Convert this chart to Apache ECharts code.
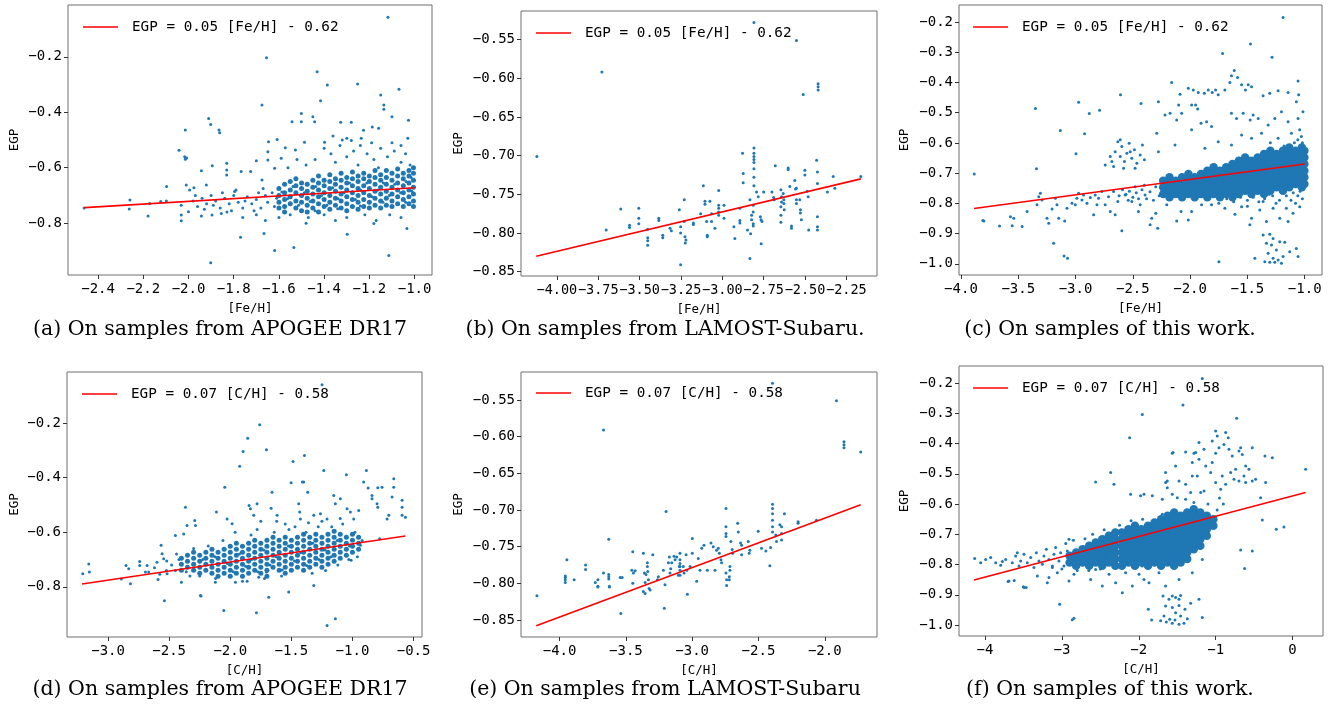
<!DOCTYPE html>
<html><head><meta charset="utf-8">
<script src="https://cdn.jsdelivr.net/npm/echarts@6.0.0/dist/echarts.min.js"></script>
<style>html,body{margin:0;padding:0;background:#fff}#c{width:1343px;height:706px}</style>
</head><body><div id="c"></div>
<script>
const EQ_FE = 'EGP = 0.05 [Fe/H] - 0.62';
const EQ_C = 'EGP = 0.07 [C/H] - 0.58';
const captions = ['(a) On samples from APOGEE DR17','(b) On samples from LAMOST-Subaru.','(c) On samples of this work.','(d) On samples from APOGEE DR17','(e) On samples from LAMOST-Subaru','(f) On samples of this work.'];

const aXTicks=[-2.4,-2.2,-2.0,-1.8,-1.6,-1.4,-1.2,-1.0], aYTicks=[-0.8,-0.6,-0.4,-0.2];
const bXTicks=[-4.0,-3.75,-3.5,-3.25,-3.0,-2.75,-2.5,-2.25], bYTicks=[-0.85,-0.8,-0.75,-0.7,-0.65,-0.6,-0.55];
const cXTicks=[-4,-3.5,-3,-2.5,-2,-1.5,-1], cYTicks=[-1.0,-0.9,-0.8,-0.7,-0.6,-0.5,-0.4,-0.3,-0.2];
const dXTicks=[-3,-2.5,-2,-1.5,-1,-0.5], dYTicks=[-0.8,-0.6,-0.4,-0.2];
const eXTicks=[-4,-3.5,-3,-2.5,-2], eYTicks=[-0.85,-0.8,-0.75,-0.7,-0.65,-0.6,-0.55];
const fXTicks=[-4,-3,-2,-1,0], fYTicks=[-1.0,-0.9,-0.8,-0.7,-0.6,-0.5,-0.4,-0.3,-0.2];

const aLine=[[-2.46,-0.744],[-1.0,-0.672]];
const bLine=[[-4.125,-0.830],[-2.163,-0.730]];
const cLine=[[-3.886,-0.817],[-1.0,-0.670]];
const dLine=[[-3.213,-0.790],[-0.567,-0.614]];
const eLine=[[-4.176,-0.858],[-1.729,-0.693]];
const fLine=[[-4.143,-0.851],[0.170,-0.562]];

const aPts=[[-2.462,-0.745],[-1.118,-0.057],[-1.655,-0.203],[-1.431,-0.254],[-1.386,-0.302],[-1.252,-0.298],[-1.069,-0.317],[-1.416,-0.358],[-1.675,-0.374],[-1.150,-0.338],[-1.136,-0.374],[-1.136,-0.389],[-1.911,-0.422],[-1.902,-0.444],[-2.014,-0.464],[-1.865,-0.464],[-1.862,-0.474],[-2.042,-0.537],[-2.017,-0.560],[-2.014,-0.569],[-2.008,-0.565],[-1.501,-0.404],[-1.542,-0.434],[-1.501,-0.434],[-1.442,-0.434],[-1.450,-0.416],[-1.327,-0.436],[-1.280,-0.436],[-1.187,-0.453],[-1.159,-0.458],[-1.100,-0.416],[-1.027,-0.429],[-1.226,-0.465],[-1.361,-0.486],[-1.300,-0.494],[-1.280,-0.502],[-1.236,-0.494],[-1.646,-0.506],[-1.608,-0.498],[-1.572,-0.528],[-1.527,-0.536],[-1.487,-0.508],[-1.398,-0.508],[-1.030,-0.494],[-1.943,-0.611],[-1.895,-0.593],[-2.097,-0.668],[-2.259,-0.716],[-2.262,-0.749],[-2.179,-0.774],[-2.172,-0.729],[-2.123,-0.722],[-2.098,-0.720],[-2.032,-0.735],[-2.032,-0.771],[-2.032,-0.791],[-2.000,-0.759],[-1.943,-0.774],[-1.896,-0.771],[-1.855,-0.765],[-1.770,-0.851],[-1.666,-0.837],[-1.619,-0.899],[-1.534,-0.888],[-1.902,-0.943],[-1.298,-0.840],[-1.180,-0.801],[-1.114,-0.917],[-1.034,-0.819],[-2.010,-0.662],[-1.995,-0.680],[-1.976,-0.672],[-1.921,-0.662],[-1.831,-0.584],[-1.831,-0.608],[-1.831,-0.626],[-1.796,-0.686],[-1.767,-0.614],[-1.725,-0.614],[-1.700,-0.575],[-1.675,-0.644],[-1.649,-0.542],[-1.649,-0.572],[-1.619,-0.602],[-1.590,-0.566],
[-1.40,-0.53],[-1.37,-0.55],[-1.33,-0.52],[-1.30,-0.56],[-1.27,-0.54],[-1.24,-0.52],[-1.21,-0.55],[-1.18,-0.57],[-1.15,-0.53],[-1.12,-0.56],[-1.09,-0.54],[-1.06,-0.58],[-1.04,-0.55],[-1.02,-0.59],[-1.35,-0.58],[-1.25,-0.59],[-1.16,-0.60],[-1.44,-0.57],[-1.48,-0.59],[-1.52,-0.57],[-1.56,-0.60],[-1.10,-0.51],[-1.19,-0.51],[-1.32,-0.50],[-1.06,-0.52],
[-1.60,-0.78],[-1.55,-0.77],[-1.47,-0.78],[-1.40,-0.77],[-1.35,-0.79],[-1.30,-0.78],[-1.22,-0.77],[-1.17,-0.79],[-1.11,-0.77],[-1.06,-0.78],[-1.70,-0.77],[-1.76,-0.78],[-1.83,-0.76],[-1.48,-0.80],[-1.66,-0.79],
[-1.98,-0.72],[-1.96,-0.74],[-1.94,-0.71],[-1.92,-0.73],[-1.90,-0.70],[-1.88,-0.72],[-1.86,-0.745],[-1.84,-0.71],[-1.82,-0.73],[-1.80,-0.70],[-1.78,-0.725],[-1.76,-0.745],[-1.74,-0.705],[-1.72,-0.73],[-1.70,-0.715],[-1.69,-0.69],[-1.68,-0.745],[-1.66,-0.70],[-1.65,-0.725],[-1.63,-0.69],[-1.62,-0.74],[-1.61,-0.71],[-1.97,-0.70],[-1.93,-0.75],[-1.89,-0.735],[-1.85,-0.69],[-1.81,-0.755],[-1.79,-0.68],[-1.75,-0.72],[-1.71,-0.755],[-1.67,-0.675],
[-1.587,-0.688],[-1.562,-0.712],[-1.538,-0.668],[-1.513,-0.735],[-1.488,-0.690],[-1.462,-0.722],[-1.437,-0.668],[-1.412,-0.700],[-1.388,-0.735],[-1.362,-0.672],[-1.338,-0.712],[-1.312,-0.690],[-1.288,-0.655],[-1.262,-0.715],[-1.238,-0.680],[-1.212,-0.655],[-1.188,-0.705],[-1.162,-0.680],[-1.138,-0.655],[-1.112,-0.700],[-1.088,-0.660],[-1.062,-0.690],[-1.038,-0.650],[-1.012,-0.685],[-1.015,-0.635],[-1.040,-0.725],[-1.140,-0.725],[-1.240,-0.738],[-1.340,-0.748],[-1.440,-0.755]];
const aCore=[[-1.600,[-0.675,-0.700,-0.725,-0.745]],[-1.575,[-0.660,-0.690,-0.715,-0.740,-0.760]],[-1.550,[-0.680,-0.705,-0.730,-0.650]],[-1.525,[-0.665,-0.690,-0.720,-0.745,-0.640]],[-1.500,[-0.675,-0.700,-0.725,-0.755,-0.655]],[-1.475,[-0.660,-0.685,-0.710,-0.735,-0.760]],[-1.450,[-0.645,-0.670,-0.695,-0.720,-0.745]],[-1.425,[-0.655,-0.680,-0.705,-0.730,-0.760,-0.630]],[-1.400,[-0.665,-0.690,-0.715,-0.740,-0.645]],[-1.375,[-0.650,-0.675,-0.700,-0.725,-0.750,-0.625]],[-1.350,[-0.660,-0.685,-0.710,-0.735,-0.640]],[-1.325,[-0.645,-0.670,-0.695,-0.720,-0.745,-0.620]],[-1.300,[-0.655,-0.680,-0.705,-0.730,-0.635,-0.755]],[-1.275,[-0.640,-0.665,-0.690,-0.715,-0.740,-0.615]],[-1.250,[-0.650,-0.675,-0.700,-0.725,-0.630,-0.750]],[-1.225,[-0.640,-0.665,-0.690,-0.715,-0.740,-0.620]],[-1.200,[-0.650,-0.675,-0.700,-0.725,-0.630,-0.745]],[-1.175,[-0.635,-0.660,-0.685,-0.710,-0.735,-0.610]],[-1.150,[-0.645,-0.670,-0.695,-0.720,-0.625,-0.745]],[-1.125,[-0.635,-0.660,-0.685,-0.710,-0.735,-0.610]],[-1.100,[-0.645,-0.670,-0.695,-0.720,-0.620,-0.740]],[-1.075,[-0.630,-0.655,-0.680,-0.705,-0.730,-0.605]],[-1.050,[-0.640,-0.665,-0.690,-0.715,-0.620,-0.740]],[-1.025,[-0.630,-0.655,-0.680,-0.705,-0.730,-0.610]],[-1.005,[-0.620,-0.645,-0.670,-0.695,-0.720,-0.600,-0.740]]];

const bPts=[[-4.121,-0.701],[-3.728,-0.592],[-3.702,-0.796],[-3.614,-0.769],[-3.561,-0.790],[-3.561,-0.793],[-3.505,-0.768],[-3.505,-0.781],[-3.505,-0.788],[-3.451,-0.795],[-3.451,-0.806],[-3.451,-0.810],[-3.451,-0.816],[-3.384,-0.781],[-3.384,-0.784],[-3.360,-0.803],[-3.360,-0.806],[-3.316,-0.794],[-3.308,-0.797],[-3.260,-0.770],[-3.252,-0.792],[-3.252,-0.800],[-3.252,-0.841],[-3.230,-0.757],[-3.230,-0.785],[-3.226,-0.805],[-3.220,-0.809],[-3.224,-0.813],[-3.175,-0.787],[-3.175,-0.789],[-3.131,-0.775],[-3.115,-0.739],[-3.105,-0.759],[-3.105,-0.763],[-3.095,-0.785],[-3.091,-0.803],[-3.091,-0.805],[-3.075,-0.759],[-3.065,-0.775],[-3.065,-0.785],[-3.045,-0.794],[-3.022,-0.745],[-3.022,-0.764],[-3.022,-0.768],[-3.022,-0.773],[-3.022,-0.777],[-2.990,-0.764],[-2.990,-0.781],[-2.930,-0.792],[-2.924,-0.807],[-2.894,-0.768],[-2.894,-0.784],[-2.894,-0.787],[-2.878,-0.697],[-2.874,-0.723],[-2.874,-0.735],[-2.848,-0.796],[-2.833,-0.757],[-2.833,-0.833],[-2.829,-0.801],[-2.823,-0.777],[-2.823,-0.783],[-2.813,-0.764],[-2.813,-0.773],[-2.813,-0.788],[-2.813,-0.791],[-2.809,-0.690],[-2.809,-0.697],[-2.809,-0.701],[-2.809,-0.705],[-2.809,-0.709],[-2.809,-0.717],[-2.809,-0.728],[-2.809,-0.739],[-2.809,-0.528],[-2.793,-0.747],[-2.783,-0.753],[-2.770,-0.779],[-2.766,-0.783],[-2.760,-0.785],[-2.765,-0.814],[-2.750,-0.747],[-2.700,-0.747],[-2.690,-0.754],[-2.686,-0.757],[-2.680,-0.713],[-2.646,-0.744],[-2.642,-0.753],[-2.642,-0.760],[-2.646,-0.766],[-2.646,-0.777],[-2.646,-0.786],[-2.632,-0.749],[-2.628,-0.757],[-2.628,-0.762],[-2.626,-0.770],[-2.602,-0.716],[-2.602,-0.718],[-2.592,-0.740],[-2.582,-0.791],[-2.582,-0.794],[-2.562,-0.732],[-2.558,-0.743],[-2.552,-0.742],[-2.552,-0.551],[-2.552,-0.757],[-2.552,-0.762],[-2.532,-0.757],[-2.528,-0.770],[-2.528,-0.774],[-2.522,-0.783],[-2.511,-0.621],[-2.501,-0.719],[-2.501,-0.725],[-2.487,-0.746],[-2.481,-0.753],[-2.478,-0.796],[-2.430,-0.706],[-2.425,-0.721],[-2.425,-0.736],[-2.421,-0.607],[-2.421,-0.611],[-2.421,-0.615],[-2.425,-0.779],[-2.425,-0.792],[-2.425,-0.796],[-2.365,-0.747],[-2.330,-0.727],[-2.320,-0.742],[-2.163,-0.727]];

const cPts=[[-1.189,-0.185],[-1.473,-0.273],[-1.285,-0.317],[-1.717,-0.304],[-3.884,-0.703],[-3.809,-0.857],[-3.350,-0.486],[-3.341,-0.686],[-3.191,-0.932],[-3.133,-0.559],[-3.100,-0.974],[-3.070,-0.982],[-2.973,-0.466],[-2.921,-0.570],[-2.880,-0.503],[-2.790,-0.492],[-2.996,-0.636],[-2.608,-0.441],[-2.428,-0.470],[-2.277,-0.464],[-1.749,-0.993],[-1.479,-0.871],[-2.100,-0.475],
[-3.800,-0.858],[-3.663,-0.875],[-3.553,-0.874],[-3.539,-0.849],[-3.568,-0.844],[-3.466,-0.877],[-3.423,-0.827],[-3.336,-0.805],[-3.321,-0.778],[-3.307,-0.767],[-3.292,-0.789],[-3.249,-0.849],[-3.234,-0.866],[-3.205,-0.819],[-3.176,-0.783],[-3.162,-0.805],[-3.147,-0.849],[-3.095,-0.858],[-3.075,-0.816],[-3.031,-0.800],[-3.002,-0.805],[-2.988,-0.783],[-2.973,-0.767],[-2.944,-0.789],[-2.930,-0.772],[-2.900,-0.800],[-2.871,-0.781],[-2.842,-0.838],[-2.828,-0.772],[-2.813,-0.805],[-2.799,-0.783],[-2.770,-0.761],[-2.741,-0.805],[-2.712,-0.778],[-2.697,-0.827],[-2.668,-0.761],[-2.654,-0.838],[-2.631,-0.794],[-2.596,-0.891],[-2.567,-0.772],[-2.509,-0.794],[-2.480,-0.745],[-2.451,-0.827],[-2.436,-0.805],[-2.393,-0.772],[-2.349,-0.871],[-2.335,-0.849],[-2.300,-0.833],[-2.283,-0.882],[-2.242,-0.767],[-2.204,-0.805],[-2.161,-0.781],[-2.117,-0.858],[-2.079,-0.827],[-2.016,-0.855],
[-2.560,-0.770],[-2.530,-0.760],[-2.500,-0.780],[-2.470,-0.765],[-2.420,-0.755],[-2.380,-0.785],[-2.350,-0.762],[-2.320,-0.790],[-2.300,-0.745],[-2.270,-0.775],[-2.620,-0.775],[-2.590,-0.755],[-2.540,-0.790],[-2.450,-0.785],[-2.400,-0.740],
[-2.697,-0.645],[-2.683,-0.662],[-2.654,-0.629],[-2.631,-0.596],[-2.610,-0.645],[-2.596,-0.612],[-2.573,-0.662],[-2.552,-0.634],[-2.532,-0.601],[-2.509,-0.651],[-2.486,-0.623],[-2.465,-0.667],[-2.436,-0.640],[-2.416,-0.607],[-2.399,-0.656],[-2.668,-0.678],[-2.581,-0.684],[-2.480,-0.684],[-2.741,-0.673],[-2.610,-0.590],[-2.523,-0.629],
[-2.291,-0.568],[-2.219,-0.508],[-2.175,-0.502],[-2.161,-0.400],[-2.088,-0.439],[-2.016,-0.419],[-1.972,-0.425],[-1.929,-0.433],[-1.952,-0.475],[-1.934,-0.488],[-1.876,-0.436],[-1.842,-0.425],[-1.807,-0.433],[-1.778,-0.425],[-1.755,-0.441],[-1.697,-0.425],[-1.653,-0.400],[-1.639,-0.378],[-1.615,-0.361],[-1.586,-0.384],[-1.551,-0.408],[-1.517,-0.425],[-1.493,-0.408],[-1.464,-0.414],[-1.639,-0.502],[-1.595,-0.519],[-1.537,-0.502],[-1.476,-0.524],[-1.450,-0.508],[-1.987,-0.557],[-1.905,-0.535],[-1.856,-0.530],[-1.813,-0.546],[-1.987,-0.475],[-2.074,-0.502],[-2.117,-0.524],[-1.406,-0.519],[-1.363,-0.444],[-1.305,-0.436],[-1.232,-0.428],[-1.145,-0.433],[-1.058,-0.395],[-1.073,-0.464],[-1.058,-0.519],[-1.044,-0.557],[-1.029,-0.579],[-1.203,-0.497],[-1.261,-0.519],[-1.319,-0.541],[-1.145,-0.530],[-1.116,-0.568],[-1.377,-0.568],[-1.232,-0.585],[-1.464,-0.585],[-1.551,-0.574],[-1.755,-0.596],[-1.639,-0.607],[-1.871,-0.618],[-2.132,-0.607],[-2.277,-0.629],[-1.015,-0.497],[-1.053,-0.441],[-1.090,-0.600],[-1.180,-0.610],[-1.300,-0.600],[-1.020,-0.600],[-1.060,-0.590],
[-1.363,-0.905],[-1.305,-0.902],[-1.276,-0.916],[-1.334,-0.932],[-1.290,-0.938],[-1.247,-0.954],[-1.319,-0.965],[-1.276,-0.982],[-1.232,-0.987],[-1.189,-0.976],[-1.174,-0.929],[-1.131,-0.960],[-1.348,-0.993],[-1.305,-0.995],[-1.203,-0.998],[-1.073,-0.949],[-1.058,-0.976],[-1.435,-0.982],[-1.261,-0.995],[-1.218,-0.927],
[-1.987,-0.827],[-1.813,-0.805],[-1.697,-0.816],[-1.609,-0.836],[-1.551,-0.811],[-1.464,-0.849],[-1.392,-0.822],[-1.334,-0.860],[-1.276,-0.816],[-1.218,-0.849],[-1.160,-0.816],[-1.102,-0.833],[-1.044,-0.811],[-1.363,-0.794],[-1.145,-0.860],[-1.900,-0.805],[-1.750,-0.800],[-1.500,-0.810],[-1.250,-0.800],[-1.080,-0.800],
[-1.68,-0.785],[-1.62,-0.795],[-1.56,-0.780],[-1.50,-0.790],[-1.45,-0.780],[-1.40,-0.795],[-1.35,-0.785],[-1.28,-0.775],[-1.22,-0.790],[-1.16,-0.775],[-1.12,-0.790],[-1.06,-0.775],[-1.02,-0.785],[-1.04,-0.760],[-1.10,-0.765],[-1.31,-0.770],[-1.58,-0.770]];
const cCore=[[-2.235,[-0.725,-0.747,-0.769]],[-2.18,[-0.714,-0.736,-0.758,-0.78]],[-2.125,[-0.725,-0.747,-0.769]],[-2.07,[-0.714,-0.736,-0.758,-0.78]],[-2.015,[-0.703,-0.725,-0.747,-0.769]],[-1.96,[-0.714,-0.736,-0.758,-0.78]],[-1.905,[-0.703,-0.725,-0.747,-0.769]],[-1.85,[-0.692,-0.714,-0.736,-0.758,-0.78]],[-1.795,[-0.681,-0.703,-0.725,-0.747,-0.769]],[-1.74,[-0.692,-0.714,-0.736,-0.758,-0.78]],[-1.685,[-0.681,-0.703,-0.725,-0.747,-0.769]],[-1.63,[-0.67,-0.692,-0.714,-0.736,-0.758,-0.78]],[-1.575,[-0.659,-0.681,-0.703,-0.725,-0.747,-0.769]],[-1.52,[-0.648,-0.67,-0.692,-0.714,-0.736,-0.758]],[-1.465,[-0.659,-0.681,-0.703,-0.725,-0.747,-0.769]],[-1.41,[-0.648,-0.67,-0.692,-0.714,-0.736,-0.758]],[-1.355,[-0.637,-0.659,-0.681,-0.703,-0.725,-0.747,-0.769]],[-1.30,[-0.626,-0.648,-0.67,-0.692,-0.714,-0.736,-0.758]],[-1.245,[-0.637,-0.659,-0.681,-0.703,-0.725,-0.747]],[-1.19,[-0.626,-0.648,-0.67,-0.692,-0.714,-0.736,-0.758]],[-1.135,[-0.615,-0.637,-0.659,-0.681,-0.703,-0.725,-0.747]],[-1.08,[-0.626,-0.648,-0.67,-0.692,-0.714,-0.736]],[-1.025,[-0.615,-0.637,-0.659,-0.681,-0.703,-0.725,-0.747]],[-1.003,[-0.626,-0.648,-0.67,-0.692,-0.714,-0.736]]];

const dPts=[[-1.249,-0.059],[-1.759,-0.206],[-1.857,-0.255],[-1.895,-0.304],[-1.704,-0.298],[-1.923,-0.358],[-1.486,-0.341],[-1.393,-0.319],[-2.045,-0.435],[-1.658,-0.453],[-1.502,-0.419],[-1.410,-0.416],[-1.399,-0.416],[-1.366,-0.453],[-1.235,-0.374],[-1.050,-0.389],[-0.886,-0.374],[-0.908,-0.416],[-0.872,-0.438],[-0.840,-0.465],[-0.840,-0.477],[-0.793,-0.437],[-0.758,-0.435],[-0.799,-0.496],[-0.793,-0.508],[-0.717,-0.551],[-0.703,-0.538],[-0.676,-0.471],[-0.662,-0.404],[-0.662,-0.435],[-0.594,-0.483],[-0.594,-0.508],[-0.594,-0.538],[-0.567,-0.545],[-2.367,-0.508],[-2.291,-0.557],[-2.285,-0.575],[-2.113,-0.526],[-2.026,-0.551],[-1.985,-0.569],[-1.846,-0.502],[-1.835,-0.514],[-1.808,-0.538],[-1.781,-0.496],[-1.666,-0.512],[-1.617,-0.538],[-1.440,-0.496],[-1.432,-0.526],[-1.426,-0.551],[-1.317,-0.538],[-1.262,-0.532],[-1.208,-0.551],[-1.044,-0.514],[-1.017,-0.526],[-0.990,-0.551],[-0.949,-0.520],[-1.153,-0.465],[-1.140,-0.496],[-1.099,-0.477],[-2.539,-0.851],[-2.239,-0.834],[-2.053,-0.887],[-1.786,-0.895],[-1.685,-0.838],[-1.522,-0.819],[-1.317,-0.795],[-1.208,-0.942],[-1.140,-0.917],[-3.207,-0.752],[-3.158,-0.716],[-3.153,-0.746],[-2.891,-0.771],[-2.853,-0.722],[-2.831,-0.734],[-2.817,-0.789],[-2.741,-0.707],[-2.741,-0.722],[-2.694,-0.746],[-2.681,-0.722],[-2.667,-0.746],[-2.591,-0.773],[-2.577,-0.754],[-2.566,-0.648],[-2.558,-0.679],[-2.545,-0.697],[-2.523,-0.740],[-2.517,-0.752],[-2.449,-0.740],[-2.449,-0.612],[-2.400,-0.783],[-2.381,-0.606],[-2.354,-0.575],[-2.244,-0.832],[-2.122,-0.783],[-1.958,-0.783],[-1.862,-0.780],[-1.767,-0.765],[-1.704,-0.746],[-1.011,-0.703],[-0.935,-0.648],[-0.921,-0.630],[-0.777,-0.624],
[-2.30,-0.66],[-2.25,-0.76],[-2.18,-0.65],[-2.12,-0.77],[-2.06,-0.63],[-1.96,-0.60],[-1.90,-0.78],[-1.83,-0.61],[-1.78,-0.59],[-1.72,-0.77],[-1.64,-0.60],[-1.58,-0.76],[-1.52,-0.59],[-1.47,-0.58],[-1.38,-0.60],[-1.33,-0.75],[-1.28,-0.58],[-1.22,-0.74],[-1.17,-0.58],[-1.12,-0.72],[-1.08,-0.57],[-1.03,-0.70],[-0.98,-0.60],[-0.96,-0.69],[-1.55,-0.57],[-1.62,-0.56],[-1.75,-0.56],[-1.36,-0.565],[-1.25,-0.56],[-1.10,-0.55],[-2.48,-0.72],[-2.42,-0.70],[-2.36,-0.745],[-2.52,-0.705],[-2.62,-0.73],[-2.60,-0.71],[-2.44,-0.68],[-2.33,-0.76],
[-2.225,-0.700],[-2.125,-0.690],[-2.025,-0.715],[-1.925,-0.680],[-1.825,-0.700],[-1.725,-0.665],[-1.625,-0.690],[-1.525,-0.650],[-1.425,-0.675],[-1.325,-0.640],[-1.225,-0.665],[-1.125,-0.630],[-1.025,-0.650],[-1.975,-0.745],[-1.875,-0.725],[-1.775,-0.745],[-1.675,-0.720],[-1.575,-0.738],[-1.475,-0.705],[-1.375,-0.722],[-1.275,-0.700],[-1.175,-0.690]];
const dCore=[[-2.40,[-0.695,-0.717,-0.739]],[-2.35,[-0.684,-0.706,-0.728]],[-2.30,[-0.695,-0.717,-0.739,-0.673]],[-2.25,[-0.684,-0.706,-0.728,-0.75]],[-2.20,[-0.673,-0.695,-0.717,-0.739]],[-2.15,[-0.662,-0.684,-0.706,-0.728,-0.75]],[-2.10,[-0.673,-0.695,-0.717,-0.739,-0.761]],[-2.05,[-0.662,-0.684,-0.706,-0.728,-0.75]],[-2.00,[-0.651,-0.673,-0.695,-0.717,-0.739,-0.761]],[-1.95,[-0.662,-0.684,-0.706,-0.728,-0.75,-0.64]],[-1.90,[-0.651,-0.673,-0.695,-0.717,-0.739,-0.761]],[-1.85,[-0.64,-0.662,-0.684,-0.706,-0.728,-0.75]],[-1.80,[-0.651,-0.673,-0.695,-0.717,-0.739,-0.629]],[-1.75,[-0.64,-0.662,-0.684,-0.706,-0.728,-0.75]],[-1.70,[-0.629,-0.651,-0.673,-0.695,-0.717,-0.739,-0.761]],[-1.65,[-0.64,-0.662,-0.684,-0.706,-0.728,-0.618]],[-1.60,[-0.629,-0.651,-0.673,-0.695,-0.717,-0.739]],[-1.55,[-0.618,-0.64,-0.662,-0.684,-0.706,-0.728,-0.75]],[-1.50,[-0.629,-0.651,-0.673,-0.695,-0.717,-0.739]],[-1.45,[-0.618,-0.64,-0.662,-0.684,-0.706,-0.728]],[-1.40,[-0.607,-0.629,-0.651,-0.673,-0.695,-0.717,-0.739]],[-1.35,[-0.618,-0.64,-0.662,-0.684,-0.706,-0.728]],[-1.30,[-0.607,-0.629,-0.651,-0.673,-0.695,-0.717]],[-1.25,[-0.618,-0.64,-0.662,-0.684,-0.706,-0.728]],[-1.20,[-0.607,-0.629,-0.651,-0.673,-0.695,-0.717]],[-1.15,[-0.596,-0.618,-0.64,-0.662,-0.684,-0.706]],[-1.10,[-0.607,-0.629,-0.651,-0.673,-0.695]],[-1.05,[-0.618,-0.64,-0.662,-0.684]],[-1.00,[-0.607,-0.629,-0.651,-0.673]],[-0.95,[-0.618,-0.64,-0.662]]];

const ePts=[[-4.171,-0.817],[-3.957,-0.790],[-3.957,-0.792],[-3.957,-0.795],[-3.957,-0.799],[-3.945,-0.768],[-3.890,-0.795],[-3.804,-0.775],[-3.804,-0.781],[-3.731,-0.799],[-3.711,-0.795],[-3.711,-0.804],[-3.711,-0.805],[-3.669,-0.591],[-3.669,-0.786],[-3.629,-0.740],[-3.629,-0.788],[-3.629,-0.791],[-3.629,-0.794],[-3.624,-0.804],[-3.624,-0.805],[-3.543,-0.792],[-3.528,-0.792],[-3.538,-0.841],[-3.455,-0.782],[-3.443,-0.786],[-3.448,-0.757],[-3.448,-0.800],[-3.430,-0.783],[-3.368,-0.759],[-3.360,-0.786],[-3.348,-0.788],[-3.355,-0.799],[-3.368,-0.811],[-3.355,-0.814],[-3.338,-0.772],[-3.338,-0.777],[-3.335,-0.784],[-3.330,-0.795],[-3.325,-0.807],[-3.317,-0.809],[-3.297,-0.761],[-3.262,-0.795],[-3.255,-0.791],[-3.217,-0.782],[-3.205,-0.802],[-3.210,-0.834],[-3.197,-0.702],[-3.179,-0.772],[-3.172,-0.764],[-3.167,-0.786],[-3.162,-0.780],[-3.154,-0.772],[-3.137,-0.763],[-3.129,-0.768],[-3.117,-0.764],[-3.104,-0.789],[-3.097,-0.777],[-3.092,-0.759],[-3.092,-0.768],[-3.092,-0.773],[-3.092,-0.777],[-3.092,-0.782],[-3.092,-0.789],[-3.067,-0.777],[-3.061,-0.786],[-3.046,-0.761],[-3.041,-0.782],[-3.036,-0.815],[-3.016,-0.777],[-2.999,-0.759],[-2.999,-0.739],[-2.966,-0.797],[-2.954,-0.766],[-2.941,-0.782],[-2.928,-0.752],[-2.911,-0.748],[-2.886,-0.782],[-2.858,-0.745],[-2.841,-0.750],[-2.828,-0.782],[-2.816,-0.755],[-2.803,-0.752],[-2.795,-0.759],[-2.783,-0.768],[-2.778,-0.772],[-2.745,-0.698],[-2.745,-0.723],[-2.745,-0.732],[-2.745,-0.736],[-2.745,-0.786],[-2.740,-0.795],[-2.740,-0.803],[-2.715,-0.777],[-2.715,-0.782],[-2.720,-0.791],[-2.720,-0.795],[-2.708,-0.743],[-2.698,-0.754],[-2.695,-0.759],[-2.657,-0.718],[-2.652,-0.730],[-2.635,-0.745],[-2.627,-0.748],[-2.627,-0.761],[-2.577,-0.743],[-2.570,-0.759],[-2.565,-0.755],[-2.502,-0.729],[-2.477,-0.752],[-2.444,-0.756],[-2.414,-0.776],[-2.409,-0.751],[-2.394,-0.692],[-2.394,-0.698],[-2.394,-0.705],[-2.394,-0.714],[-2.394,-0.723],[-2.394,-0.730],[-2.369,-0.734],[-2.364,-0.743],[-2.339,-0.720],[-2.326,-0.723],[-2.326,-0.732],[-2.326,-0.741],[-2.304,-0.705],[-2.201,-0.716],[-2.201,-0.718],[-2.063,-0.714],[-2.394,-0.527],[-1.912,-0.551],[-1.855,-0.607],[-1.855,-0.611],[-1.855,-0.615],[-1.729,-0.621]];

const fPts=[[-1.174,-0.185],[-1.425,-0.273],[-1.954,-0.304],[-0.727,-0.317],[-2.119,-0.381],[-2.366,-0.496],[-2.561,-0.527],[-2.323,-0.535],[-0.524,-0.414],[-0.359,-0.441],[-0.263,-0.447],[0.170,-0.485],[-0.393,-0.653],[-0.212,-0.683],[-0.112,-0.676],[-0.675,-0.752],[-0.524,-0.755],[-0.623,-0.813],[-3.029,-0.931],[-2.843,-0.977],[-2.865,-0.982],[-3.700,-0.856],[-3.620,-0.853],[-3.500,-0.873],[-3.465,-0.876],[-3.189,-0.860],[-3.124,-0.810],[-2.908,-0.854],[-2.214,-0.893],[-1.932,-0.849],[-1.555,-0.430],[-1.391,-0.428],[-1.282,-0.432],[-1.217,-0.452],[-1.651,-0.496],[-1.629,-0.524],
[-1.685,-0.904],[-1.607,-0.915],[-1.521,-0.909],[-1.456,-0.902],[-1.651,-0.937],[-1.564,-0.942],[-1.477,-0.935],[-1.399,-0.948],[-1.672,-0.970],[-1.598,-0.981],[-1.529,-0.983],[-1.456,-0.970],[-1.369,-0.979],[-1.642,-0.990],[-1.564,-0.994],[-1.477,-0.997],[-1.412,-0.994],[-1.716,-0.986],[-1.876,-0.948],[-1.833,-0.983],[-1.326,-0.928],[-1.174,-0.975],[-1.217,-0.915],[-1.521,-0.959],[-1.564,-0.904],[-1.477,-0.915],
[-1.000,-0.359],[-0.979,-0.375],[-1.044,-0.392],[-0.957,-0.414],[-1.000,-0.432],[-0.870,-0.364],[-0.836,-0.381],[-0.892,-0.403],[-0.827,-0.419],[-0.784,-0.441],[-0.697,-0.425],[-0.654,-0.436],[-0.675,-0.414],[-0.610,-0.474],[-0.740,-0.485],[-0.805,-0.496],[-0.762,-0.518],[-0.697,-0.524],[-0.610,-0.529],[-0.632,-0.507],[-0.567,-0.485],[-0.524,-0.524],[-0.914,-0.507],[-0.870,-0.535],[-0.935,-0.551],[-1.000,-0.529],[-1.065,-0.496],[-1.130,-0.474],[-1.152,-0.419],[-1.260,-0.430],[-1.304,-0.463],[-1.239,-0.507],[-1.195,-0.562],[-1.152,-0.557],[-1.304,-0.507],[-1.391,-0.535],[-1.326,-0.562],[-1.477,-0.524],[-1.521,-0.474],[-1.651,-0.529],[-1.629,-0.546],[-1.564,-0.568],[-1.694,-0.584],[-1.499,-0.579],[-1.391,-0.584],[-1.283,-0.595],[-1.217,-0.397],[-1.044,-0.463],[-1.564,-0.432],[-1.824,-0.573],[-1.932,-0.568],[-2.106,-0.568],[-1.976,-0.573],[-1.694,-0.634],[-0.415,-0.579],[-0.350,-0.529],[-0.480,-0.518],[-0.90,-0.60],[-0.95,-0.58],[-1.10,-0.60],[-0.98,-0.62],
[-4.134,-0.780],[-4.056,-0.794],[-3.991,-0.783],[-3.926,-0.777],[-3.861,-0.794],[-3.796,-0.802],[-3.731,-0.783],[-3.688,-0.854],[-3.645,-0.794],[-3.601,-0.772],[-3.558,-0.805],[-3.536,-0.788],[-3.493,-0.766],[-3.450,-0.794],[-3.406,-0.777],[-3.363,-0.810],[-3.332,-0.761],[-3.298,-0.788],[-3.254,-0.799],[-3.233,-0.772],[-3.202,-0.749],[-3.168,-0.783],[-3.124,-0.805],[-3.103,-0.766],[-3.081,-0.744],[-3.059,-0.827],[-3.038,-0.788],[-3.016,-0.761],[-3.580,-0.761],[-3.775,-0.790],[-3.493,-0.876],[-3.319,-0.838],[-3.168,-0.843],[-2.929,-0.755],[-2.973,-0.805],[-2.908,-0.716],[-2.843,-0.832],[-2.778,-0.783],[-2.713,-0.799],[-2.626,-0.849],[-2.561,-0.816],[-2.474,-0.871],[-2.387,-0.832],[-2.301,-0.860],[-2.171,-0.827],[-2.084,-0.871],[-1.997,-0.832],[-1.867,-0.860],[-1.737,-0.827],[-1.651,-0.871],[-1.477,-0.849],[-1.304,-0.827],[-1.174,-0.783],[-1.521,-0.805],[-1.954,-0.805],[-2.95,-0.73],[-2.85,-0.72],[-2.70,-0.715],[-2.60,-0.70],[-2.45,-0.685],[-2.25,-0.67],[-2.10,-0.655],[-1.95,-0.65],[-3.00,-0.815],[-2.80,-0.82],[-2.65,-0.82],[-2.50,-0.815]];
const fCore=[[-2.90,[-0.771,-0.793]],[-2.815,[-0.76,-0.782,-0.804]],[-2.73,[-0.749,-0.771,-0.793]],[-2.645,[-0.738,-0.76,-0.782,-0.804]],[-2.56,[-0.727,-0.749,-0.771,-0.793]],[-2.475,[-0.716,-0.738,-0.76,-0.782,-0.804]],[-2.39,[-0.705,-0.727,-0.749,-0.771,-0.793]],[-2.305,[-0.694,-0.716,-0.738,-0.76,-0.782,-0.804]],[-2.22,[-0.694,-0.716,-0.738,-0.76,-0.782,-0.804]],[-2.135,[-0.683,-0.705,-0.727,-0.749,-0.771,-0.793]],[-2.05,[-0.672,-0.694,-0.716,-0.738,-0.76,-0.782,-0.804]],[-1.965,[-0.683,-0.705,-0.727,-0.749,-0.771,-0.793]],[-1.88,[-0.672,-0.694,-0.716,-0.738,-0.76,-0.782,-0.804]],[-1.795,[-0.661,-0.683,-0.705,-0.727,-0.749,-0.771,-0.793]],[-1.71,[-0.65,-0.672,-0.694,-0.716,-0.738,-0.76,-0.782,-0.804]],[-1.625,[-0.639,-0.661,-0.683,-0.705,-0.727,-0.749,-0.771,-0.793]],[-1.54,[-0.628,-0.65,-0.672,-0.694,-0.716,-0.738,-0.76,-0.782,-0.804]],[-1.455,[-0.639,-0.661,-0.683,-0.705,-0.727,-0.749,-0.771,-0.793]],[-1.37,[-0.628,-0.65,-0.672,-0.694,-0.716,-0.738,-0.76,-0.782]],[-1.285,[-0.617,-0.639,-0.661,-0.683,-0.705,-0.727,-0.749]],[-1.20,[-0.628,-0.65,-0.672,-0.694,-0.716,-0.738]],[-1.115,[-0.639,-0.661,-0.683,-0.705]],[-1.03,[-0.65,-0.672]]];

function expand(cols){const out=[];cols.forEach(c=>c[1].forEach(y=>out.push([c[0],y])));return out;}
function fmt(d){return v=>(v<0?'\u2212':'')+Math.abs(v).toFixed(d);}

const MONO='DejaVu Sans Mono';
const panels=[
 {grid:{left:68,top:5,width:364,height:270},xr:[-2.533,-0.923],yr:[-0.987,-0.013],xt:aXTicks,yt:aYTicks,xd:1,yd:1,xs:14,xn:'[Fe/H]',eq:EQ_FE,pts:aPts,core:expand(aCore),cs:5,line:aLine,lg:[83,27],yg:47,cap:[220,330]},
 {grid:{left:521,top:11,width:356,height:265},xr:[-4.217,-2.065],yr:[-0.8556,-0.513],xt:bXTicks,yt:bYTicks,xd:2,yd:2,xs:13.5,xn:'[Fe/H]',eq:EQ_FE,pts:bPts,core:[],cs:3,line:bLine,lg:[536,33],yg:56,cap:[665,330]},
 {grid:{left:959,top:5,width:363,height:270},xr:[-4.017,-0.849],yr:[-1.037,-0.144],xt:cXTicks,yt:cYTicks,xd:1,yd:1,xs:14,xn:'[Fe/H]',eq:EQ_FE,pts:cPts,core:expand(cCore),cs:8.5,line:cLine,lg:[973,27],yg:48,cap:[1110,330]},
 {grid:{left:67,top:372,width:355,height:265},xr:[-3.336,-0.431],yr:[-0.984,-0.0126],xt:dXTicks,yt:dYTicks,xd:1,yd:1,xs:14,xn:'[C/H]',eq:EQ_C,pts:dPts,core:expand(dCore),cs:5,line:dLine,lg:[82,394],yg:46,cap:[220,690]},
 {grid:{left:521,top:372,width:356,height:265},xr:[-4.291,-1.606],yr:[-0.8732,-0.5118],xt:eXTicks,yt:eYTicks,xd:1,yd:2,xs:14,xn:'[C/H]',eq:EQ_C,pts:ePts,core:[],cs:3,line:eLine,lg:[536,393],yg:56,cap:[665,690]},
 {grid:{left:959,top:366,width:364,height:270},xr:[-4.338,0.396],yr:[-1.036,-0.144],xt:fXTicks,yt:fYTicks,xd:0,yd:1,xs:14,xn:'[C/H]',eq:EQ_C,pts:fPts,core:expand(fCore),cs:8.5,line:fLine,lg:[973,388],yg:48,cap:[1110,690]}
];

const option={animation:false,grid:[],xAxis:[],yAxis:[],series:[],legend:[],graphic:[]};
const BLUE='#1f77b4';
panels.forEach((p,i)=>{
 option.grid.push(Object.assign({show:true,borderColor:'#6e6e6e',borderWidth:1,backgroundColor:'transparent'},p.grid));
 option.xAxis.push({gridIndex:i,type:'value',min:p.xr[0],max:p.xr[1],splitLine:{show:false},axisLine:{show:false,onZero:false},
  axisTick:{show:true,customValues:p.xt,length:4,lineStyle:{color:'#333'}},
  axisLabel:{customValues:p.xt,formatter:fmt(p.xd),fontFamily:MONO,fontSize:p.xs,color:'#000',margin:7,hideOverlap:false,showMinLabel:true,showMaxLabel:true},
  name:p.xn,nameLocation:'middle',nameGap:27,nameTextStyle:{fontFamily:MONO,fontSize:12.5,color:'#000'}});
 option.yAxis.push({gridIndex:i,type:'value',min:p.yr[0],max:p.yr[1],splitLine:{show:false},axisLine:{show:false,onZero:false},
  axisTick:{show:true,customValues:p.yt,length:4,lineStyle:{color:'#333'}},
  axisLabel:{customValues:p.yt,formatter:fmt(p.yd),fontFamily:MONO,fontSize:14,color:'#000',margin:6,hideOverlap:false,showMinLabel:true,showMaxLabel:true},
  name:'EGP',nameLocation:'middle',nameGap:p.yg,nameTextStyle:{fontFamily:MONO,fontSize:12.5,color:'#000'}});
 option.series.push({type:'scatter',xAxisIndex:i,yAxisIndex:i,data:p.pts,symbolSize:3,itemStyle:{color:BLUE,opacity:1},silent:true,z:2});
 if(p.core.length) option.series.push({type:'scatter',xAxisIndex:i,yAxisIndex:i,data:p.core,symbolSize:p.cs,itemStyle:{color:BLUE,opacity:1},silent:true,z:2});
 option.series.push({type:'line',name:p.eq,xAxisIndex:i,yAxisIndex:i,data:p.line,symbol:'none',showSymbol:false,lineStyle:{color:'#ff0000',width:1.6},itemStyle:{color:'#ff0000'},silent:true,z:5});
 option.legend.push({data:[{name:p.eq,icon:'rect'}],left:p.lg[0],top:p.lg[1]-8,padding:0,itemWidth:35,itemHeight:1.6,selectedMode:false,
  itemStyle:{color:'#ff0000',borderWidth:0},lineStyle:{width:0},
  textStyle:{fontFamily:MONO,fontSize:14.3,color:'#000',padding:[0,0,0,9],lineHeight:16}});
 option.graphic.push({type:'text',x:p.cap[0],y:p.cap[1],style:{text:captions[i],fontFamily:'DejaVu Serif',fontSize:20.5,fill:'#000',align:'center',verticalAlign:'middle'}});
});
const chart=echarts.init(document.getElementById('c'),null,{renderer:'canvas'});
chart.setOption(option);
</script></body></html>
